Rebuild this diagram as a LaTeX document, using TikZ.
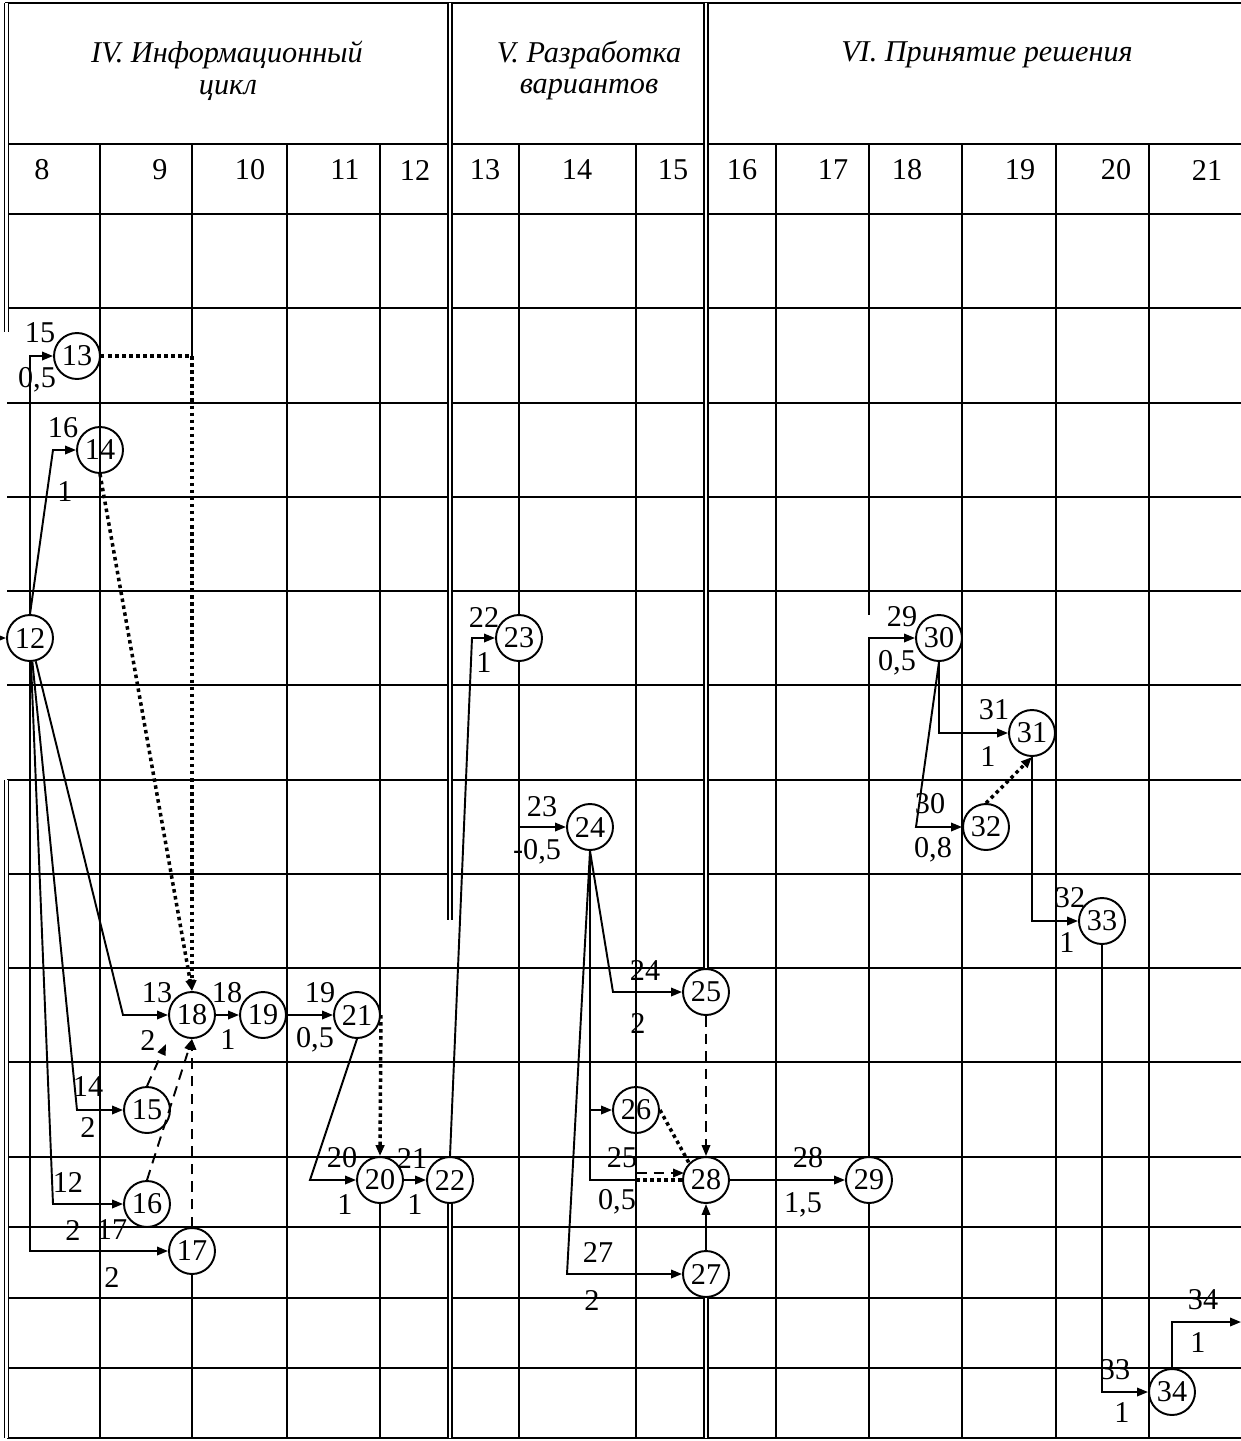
\documentclass[tikz,border=0pt]{standalone}
\usepackage{fontspec}
\setmainfont{Liberation Serif}
\usetikzlibrary{arrows.meta}
\begin{document}
\begin{tikzpicture}[x=0.02cm,y=-0.02cm,
  font=\fontsize{17.2}{20}\selectfont,
  gl/.style={line width=1.3pt},
  dl/.style={double, line width=0.7pt, double distance=1.5pt},
  ev/.style={circle, draw, line width=1.1pt, minimum size=0.92cm, inner sep=0pt, fill=white},
  evo/.style={ev, fill=none},
  conn/.style={line width=1.1pt, -{Triangle[length=0.22cm,width=0.17cm]}},
  plainl/.style={line width=1.1pt},
  dotl/.style={line width=2pt, dash pattern=on 2pt off 2pt},
  dashl/.style={line width=1.1pt, dash pattern=on 6pt off 4pt},
  lab/.style={inner sep=0pt},
  hdr/.style={font=\fontsize{17.2}{20}\selectfont\itshape, align=center, inner sep=0pt}
]
\useasboundingbox (0,0) rectangle (1241,1441);
% ---------- grid ----------
\draw[gl] (5,3) -- (1241,3);
\foreach \yy in {144,214,308,403,497,591,685,780,874,968,1062,1157,1227,1298,1368,1438}
  \draw[gl] (7,\yy) -- (1241,\yy);
\draw[dl] (6.5,3) -- (6.5,332);
\draw[dl] (6.5,780) -- (6.5,1438);
\draw[gl] (100,144) -- (100,1438);
\draw[gl] (192,144) -- (192,356);
\draw[gl] (192,1275) -- (192,1438);
\draw[gl] (287,144) -- (287,1438);
\draw[gl] (380,144) -- (380,1015);
\draw[gl] (380,1203) -- (380,1438);
\draw[dl] (450,3) -- (450,920);
\draw[dl] (450,1203) -- (450,1438);
\draw[gl] (519,144) -- (519,1438);
\draw[gl] (636,144) -- (636,1438);
\draw[dl] (706,3) -- (706,968);
\draw[dl] (706,1297) -- (706,1438);
\draw[gl] (776,144) -- (776,1438);
\draw[gl] (869,144) -- (869,615);
\draw[gl] (869,1203) -- (869,1438);
\draw[gl] (962,144) -- (962,1438);
\draw[gl] (1056,144) -- (1056,1438);
\draw[gl] (1149,144) -- (1149,1438);
% ---------- header ----------
\node[hdr] (h1a) at (227,55) {IV. Информационный};
\node[hdr] (h1b) at (228,90) {цикл};
\node[hdr] (h2a) at (589,55) {V. Разработка};
\node[hdr] (h2b) at (589,90) {вариантов};
\node[hdr] (h3a) at (987,55) {VI. Принятие решения};
\foreach \xx/\tt in {42/8,160/9,250/10,345/11,415/12,485/13,577/14,673/15,742/16,833/17,907/18,1020/19,1116/20,1207/21}
  \node[lab] (col\tt) at (\xx,170) {\tt};
% ---------- events ----------
\node[ev] (n12) at (30,638) {12};
\node[ev] (n13) at (77,356) {13};
\node[evo] (n14) at (100,450) {14};
\node[ev] (n15) at (147,1110) {15};
\node[ev] (n16) at (147,1204) {16};
\node[ev] (n17) at (192,1251) {17};
\node[ev] (n18) at (192,1015) {18};
\node[ev] (n19) at (263,1015) {19};
\node[ev] (n21) at (357,1015) {21};
\node[ev] (n20) at (380,1180) {20};
\node[ev] (n22) at (450,1180) {22};
\node[ev] (n23) at (519,638) {23};
\node[ev] (n24) at (590,827) {24};
\node[ev] (n25) at (706,992) {25};
\node[evo] (n26) at (636,1110) {26};
\node[ev] (n28) at (706,1180) {28};
\node[ev] (n27) at (706,1274) {27};
\node[ev] (n29) at (869,1180) {29};
\node[ev] (n30) at (939,638) {30};
\node[ev] (n31) at (1032,733) {31};
\node[ev] (n32) at (986,827) {32};
\node[ev] (n33) at (1102,921) {33};
\node[ev] (n34) at (1172,1392) {34};
% ---------- helper coordinates ----------
\coordinate (cin) at (0,638);
\coordinate (c14) at (53,450);
\coordinate (c15) at (77,1110);
\coordinate (c16) at (53,1204);
\coordinate (c18) at (123,1015);
\coordinate (c15e) at (166,1044);
\coordinate (c20) at (310,1180);
\coordinate (c23) at (472,638);
\coordinate (c25) at (613,992);
\coordinate (c27) at (567,1274);
\coordinate (c28s) at (636,1180);
\coordinate (c28d) at (636,1173);
\coordinate (c28e) at (684,1173);
\coordinate (c32) at (916,827);
\coordinate (cout) at (1241,1322);
% ---------- connectors ----------
\draw[conn] (cin) -- (n12);
\draw[conn] (n12.north) |- (n13.west);
\draw[conn] (n12.north) -- (c14) -- (n14.west);
\draw[conn,dotl] (n13.east) -| (n18.north);
\draw[conn,dotl] (n14.south) -- (n18.north);
\draw[conn] (n12) -- (c18) -- (n18.west);
\draw[conn] (n12) -- (c15) -- (n15.west);
\draw[conn] (n12) -- (c16) -- (n16.west);
\draw[conn] (n12.south) |- (n17.west);
\draw[conn,dashl] (n15.north) -- (c15e);
\draw[conn,dashl] (n16.north) -- (n18.south);
\draw[conn,dashl] (n17.north) -- (n18.south);
\draw[conn] (n18) -- (n19);
\draw[conn] (n19) -- (n21);
\draw[conn] (n21.south) -- (c20) -- (n20.west);
\draw[conn,dotl] (n21.east) -- (n20.north);
\draw[conn] (n20) -- (n22);
\draw[conn] (n22.north) -- (c23) -- (n23.west);
\draw[conn] (n23.south) |- (n24.west);
\draw[conn] (n24.south) -- (c25) -- (n25.west);
\draw[conn] (n24.south) |- (n26.west);
\draw[plainl] (n24.south) |- (c28s);
\draw[dotl] (c28s) -- (n28.west);
\draw[conn,dashl] (c28d) -- (c28e);
\draw[conn] (n24.south) -- (c27) -- (n27.west);
\draw[conn,dashl] (n25.south) -- (n28.north);
\draw[dotl] (n26.east) -- (n28.north west);
\draw[conn] (n27.north) -- (n28.south);
\draw[conn] (n28) -- (n29);
\draw[conn] (n29.north) |- (n30.west);
\draw[conn] (n30.south) |- (n31.west);
\draw[conn] (n30.south) -- (c32) -- (n32.west);
\draw[conn,dotl] (n32.north) -- (n31.south);
\draw[conn] (n31.south) |- (n33.west);
\draw[conn] (n33.south) |- (n34.west);
\draw[conn] (n34.north) |- (cout);
% ---------- labels ----------
\node[lab] (l1) at (40,333) {15};
\node[lab] (l2) at (37,380) {0,5};
\node[lab] (l3) at (63,428) {16};
\node[lab] (l4) at (65,492) {1};
\node[lab] (l5) at (157,993) {13};
\node[lab] (l6) at (148,1040) {2};
\node[lab] (l7) at (227,993) {18};
\node[lab] (l8) at (228,1040) {1};
\node[lab] (l9) at (320,993) {19};
\node[lab] (l10) at (315,1040) {0,5};
\node[lab] (l11) at (88,1087) {14};
\node[lab] (l12) at (88,1127) {2};
\node[lab] (l13) at (68,1182) {12};
\node[lab] (l14) at (73,1230) {2};
\node[lab] (l15) at (112,1230) {17};
\node[lab] (l16) at (112,1277) {2};
\node[lab] (l17) at (342,1158) {20};
\node[lab] (l18) at (345,1205) {1};
\node[lab] (l19) at (412,1158) {21};
\node[lab] (l20) at (415,1205) {1};
\node[lab] (l21) at (484,617) {22};
\node[lab] (l22) at (484,663) {1};
\node[lab] (l23) at (542,807) {23};
\node[lab] (l24) at (537,852) {-0,5};
\node[lab] (l25) at (645,970) {24};
\node[lab] (l26) at (638,1023) {2};
\node[lab] (l27) at (622,1158) {25};
\node[lab] (l28) at (617,1202) {0,5};
\node[lab] (l29) at (598,1252) {27};
\node[lab] (l30) at (592,1300) {2};
\node[lab] (l31) at (808,1158) {28};
\node[lab] (l32) at (803,1205) {1,5};
\node[lab] (l33) at (902,617) {29};
\node[lab] (l34) at (897,663) {0,5};
\node[lab] (l35) at (994,710) {31};
\node[lab] (l36) at (988,757) {1};
\node[lab] (l37) at (930,804) {30};
\node[lab] (l38) at (933,850) {0,8};
\node[lab] (l39) at (1070,898) {32};
\node[lab] (l40) at (1067,943) {1};
\node[lab] (l41) at (1115,1370) {33};
\node[lab] (l42) at (1122,1413) {1};
\node[lab] (l43) at (1203,1300) {34};
\node[lab] (l44) at (1198,1343) {1};
\end{tikzpicture}
\end{document}
